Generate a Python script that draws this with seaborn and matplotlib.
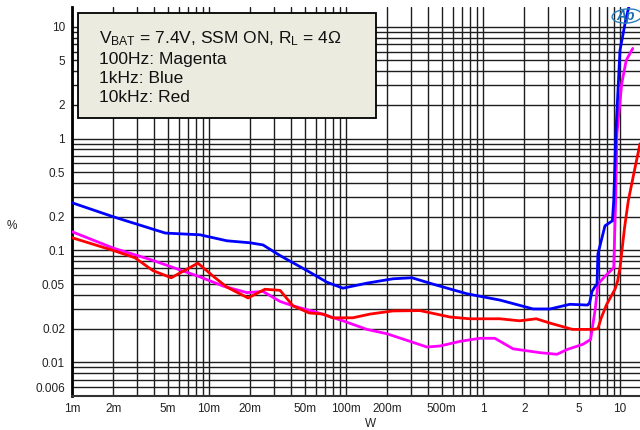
import numpy as np
import pandas as pd
import matplotlib
matplotlib.use("Agg")
import matplotlib.pyplot as plt
import seaborn as sns
from matplotlib.ticker import LogLocator, FixedLocator, FixedFormatter, NullFormatter
from matplotlib.patches import Rectangle, Ellipse

# THD+N versus output power, VBAT = 7.4 V, SSM on, 4 ohm load
power_1k = [0.001, 0.002, 0.0048, 0.0086, 0.0135, 0.020, 0.0248, 0.033, 0.052, 0.0726,
            0.095, 0.142, 0.220, 0.303, 0.431, 0.764, 1.33, 2.32, 3.09, 4.3, 5.8, 6.0,
            6.25, 6.6, 6.8, 6.9, 7.77, 8.8, 9.0, 9.35, 10.0, 11.0, 11.6]
thd_1k = [0.267, 0.2, 0.143, 0.138, 0.122, 0.117, 0.112, 0.09, 0.066, 0.052,
          0.046, 0.051, 0.0558, 0.057, 0.05, 0.041, 0.036, 0.030, 0.030, 0.033, 0.0325, 0.034,
          0.043, 0.048, 0.05, 0.093, 0.166, 0.184, 0.278, 1.18, 6.15, 11.4, 15.0]

power_100 = [0.001, 0.002, 0.00384, 0.0086, 0.0127, 0.0189, 0.0248, 0.033, 0.041, 0.061,
             0.095, 0.142, 0.199, 0.293, 0.390, 0.486, 0.680, 0.950, 1.22, 1.66, 2.6,
             3.47, 4.1, 5.37, 6.1, 6.6, 6.9, 7.8, 9.0, 9.3, 9.5, 10.3, 11.1, 12.4]
thd_100 = [0.147, 0.105, 0.082, 0.058, 0.048, 0.042, 0.043, 0.035, 0.032, 0.028,
           0.0235, 0.0197, 0.018, 0.0154, 0.0137, 0.014, 0.0154, 0.0164, 0.0164, 0.0132, 0.0122,
           0.0118, 0.013, 0.0145, 0.016, 0.03, 0.05, 0.059, 0.07, 0.278, 1.11, 3.1, 5.0, 6.4]

power_10k = [0.001, 0.002, 0.00288, 0.0039, 0.0053, 0.0083, 0.0107, 0.0135, 0.0193, 0.0256,
             0.033, 0.041, 0.054, 0.068, 0.080, 0.112, 0.150, 0.220, 0.347, 0.575, 0.800,
             1.33, 1.85, 2.45, 3.09, 4.5, 6.4, 6.9, 7.3, 8.0, 9.2, 9.6, 10.0, 10.8, 11.5,
             12.5, 14.0]
thd_10k = [0.13, 0.1, 0.086, 0.066, 0.057, 0.077, 0.059, 0.047, 0.0376, 0.045,
           0.044, 0.032, 0.0276, 0.027, 0.025, 0.025, 0.027, 0.0288, 0.029, 0.0254, 0.0245,
           0.0245, 0.0235, 0.0245, 0.0224, 0.0197, 0.0197, 0.02, 0.025, 0.033, 0.045, 0.053,
           0.07, 0.16, 0.278, 0.46, 0.9]

series_names = ["100Hz", "1kHz", "10kHz"]
series_colors = ["#ff00ff", "#0000ff", "#ff0000"]

y_ticks = [10, 5, 2, 1, 0.5, 0.2, 0.1, 0.05, 0.02, 0.01, 0.006]
y_tick_labels = ["10", "5", "2", "1", "0.5", "0.2", "0.1", "0.05", "0.02", "0.01", "0.006"]
x_ticks = [0.001, 0.002, 0.005, 0.01, 0.02, 0.05, 0.1, 0.2, 0.5, 1, 2, 5, 10]
x_tick_labels = ["1m", "2m", "5m", "10m", "20m", "50m", "100m", "200m", "500m",
                 "1", "2", "5", "10"]

df = pd.concat([
    pd.DataFrame({"W": power_100, "THD": thd_100, "freq": "100Hz"}),
    pd.DataFrame({"W": power_1k, "THD": thd_1k, "freq": "1kHz"}),
    pd.DataFrame({"W": power_10k, "THD": thd_10k, "freq": "10kHz"}),
], ignore_index=True)

sns.set_theme(style="white")
plt.rcParams["font.family"] = ["Liberation Sans", "DejaVu Sans"]
plt.rcParams["mathtext.default"] = "regular"

fig = plt.figure(figsize=(6.4, 4.3), dpi=100)
ax = fig.add_axes([72 / 640, 34 / 430, 1 - 72 / 640, (396 - 7) / 430])

ax.set_xscale("log")
ax.set_yscale("log")
ax.set_xlim(0.001, 14.0)
ax.set_ylim(0.005, 15.0)

sns.lineplot(data=df, x="W", y="THD", hue="freq", hue_order=series_names,
             palette=dict(zip(series_names, series_colors)), sort=False,
             estimator=None, legend=False, linewidth=2.0, ax=ax, zorder=5)

# dense log grid at every 1..9 multiple
ax.xaxis.set_minor_locator(LogLocator(base=10, subs=np.arange(1, 10), numticks=30))
ax.yaxis.set_minor_locator(LogLocator(base=10, subs=np.arange(1, 10), numticks=30))
ax.xaxis.set_minor_formatter(NullFormatter())
ax.yaxis.set_minor_formatter(NullFormatter())
ax.xaxis.set_major_locator(FixedLocator(x_ticks))
ax.xaxis.set_major_formatter(FixedFormatter(x_tick_labels))
ax.yaxis.set_major_locator(FixedLocator(y_ticks))
ax.yaxis.set_major_formatter(FixedFormatter(y_tick_labels))
ax.grid(True, which="both", color="#1e1e1e", linewidth=1.0)
ax.set_axisbelow(True)

ax.tick_params(which="both", length=0, labelsize=8.5, colors="#222222", pad=5)

for side in ["top", "right"]:
    ax.spines[side].set_visible(False)
ax.spines["left"].set_color("black")
ax.spines["left"].set_linewidth(2.0)
ax.spines["bottom"].set_color("#333333")
ax.spines["bottom"].set_linewidth(1.5)

ax.set_xlabel("W", fontsize=8.5, color="#222222")
ax.set_ylabel("%", fontsize=8.5, color="#222222", rotation=0)
ax.xaxis.set_label_coords((371 - 72) / (640 - 72), -(418 - 396) / 389)
ax.yaxis.set_label_coords(-(72 - 12) / (640 - 72), (396 - 232) / 389)

# annotation box
fig.add_artist(Rectangle((78 / 640, (430 - 118) / 430), 298 / 640, 105 / 430,
                         transform=fig.transFigure, facecolor="#ecebe0",
                         edgecolor="black", linewidth=1.3, zorder=10))
box_lines = [r"V$_{BAT}$ = 7.4V, SSM ON, R$_{L}$ = 4Ω",
             "100Hz: Magenta", "1kHz: Blue", "10kHz: Red"]
baselines = [43, 64, 83, 102]
for txt, b in zip(box_lines, baselines):
    fig.text(99 / 640, (430 - b) / 430, txt, fontsize=12.5, color="#111111",
             va="baseline", ha="left", zorder=11)

# Ap mark
fig.add_artist(Ellipse((627 / 640, (430 - 16) / 430), 30 / 640, 14 / 430, angle=10,
                       transform=fig.transFigure, fill=False, edgecolor="#2a7fbf",
                       linewidth=1.0, zorder=11))
fig.text(626 / 640, (430 - 16) / 430, "Ap", fontsize=10, fontstyle="italic",
         fontweight="bold", color="#1f6fb0", ha="center", va="center", zorder=12)

fig.savefig("out.png", dpi=100)
